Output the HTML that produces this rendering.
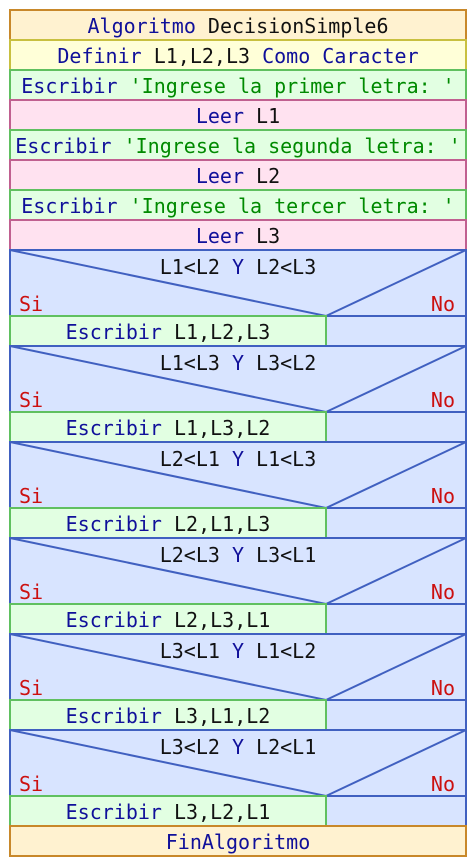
<!DOCTYPE html>
<html><head><meta charset="utf-8"><style>
html,body{margin:0;padding:0;background:#fff;width:476px;height:866px;overflow:hidden}
text{font-family:"DejaVu Sans Mono","Liberation Mono",monospace;font-size:20px;text-anchor:middle}
.k{fill:#10109a}.s{fill:#008a00}.t{fill:#111}.r{fill:#cc1010}
</style></head><body>
<svg width="476" height="866" xmlns="http://www.w3.org/2000/svg">
<rect x="10" y="10" width="456" height="30" fill="#fff2d0" stroke="#c8882a" stroke-width="2"/>
<text x="238" y="33"><tspan class="k">Algoritmo</tspan><tspan class="t"> DecisionSimple6</tspan></text>
<rect x="10" y="40" width="456" height="30" fill="#ffffd8" stroke="#c8c040" stroke-width="2"/>
<text x="238" y="63"><tspan class="k">Definir</tspan><tspan class="t"> L1,L2,L3 </tspan><tspan class="k">Como Caracter</tspan></text>
<rect x="10" y="70" width="456" height="30" fill="#e2ffe2" stroke="#60c060" stroke-width="2"/>
<text x="238" y="93"><tspan class="k">Escribir</tspan><tspan class="s"> 'Ingrese la primer letra: '</tspan></text>
<rect x="10" y="100" width="456" height="30" fill="#ffe2f0" stroke="#c06090" stroke-width="2"/>
<text x="238" y="123"><tspan class="k">Leer</tspan><tspan class="t"> L1</tspan></text>
<rect x="10" y="130" width="456" height="30" fill="#e2ffe2" stroke="#60c060" stroke-width="2"/>
<text x="238" y="153"><tspan class="k">Escribir</tspan><tspan class="s"> 'Ingrese la segunda letra: '</tspan></text>
<rect x="10" y="160" width="456" height="30" fill="#ffe2f0" stroke="#c06090" stroke-width="2"/>
<text x="238" y="183"><tspan class="k">Leer</tspan><tspan class="t"> L2</tspan></text>
<rect x="10" y="190" width="456" height="30" fill="#e2ffe2" stroke="#60c060" stroke-width="2"/>
<text x="238" y="213"><tspan class="k">Escribir</tspan><tspan class="s"> 'Ingrese la tercer letra: '</tspan></text>
<rect x="10" y="220" width="456" height="30" fill="#ffe2f0" stroke="#c06090" stroke-width="2"/>
<text x="238" y="243"><tspan class="k">Leer</tspan><tspan class="t"> L3</tspan></text>

<g id="d1">
<rect x="10" y="250" width="456" height="96" fill="#d8e4ff" stroke="#4060c0" stroke-width="2"/>
<polyline points="10,250 326,316 466,250" fill="none" stroke="#4060c0" stroke-width="2"/>
<line x1="326" y1="316" x2="466" y2="316" stroke="#4060c0" stroke-width="2"/>
<text x="19" y="311" class="r" style="text-anchor:start">Si</text>
<text x="455" y="311" class="r" style="text-anchor:end">No</text>
<rect x="10" y="316" width="316" height="30" fill="#e2ffe2" stroke="#60c060" stroke-width="2"/>
</g>
<text x="238" y="274"><tspan class="t">L1&lt;L2 </tspan><tspan class="k">Y</tspan><tspan class="t"> L2&lt;L3</tspan></text>
<text x="168" y="339"><tspan class="k">Escribir</tspan><tspan class="t"> L1,L2,L3</tspan></text>

<use href="#d1" transform="translate(0,96)"/>
<text x="238" y="370"><tspan class="t">L1&lt;L3 </tspan><tspan class="k">Y</tspan><tspan class="t"> L3&lt;L2</tspan></text>
<text x="168" y="435"><tspan class="k">Escribir</tspan><tspan class="t"> L1,L3,L2</tspan></text>

<use href="#d1" transform="translate(0,192)"/>
<text x="238" y="466"><tspan class="t">L2&lt;L1 </tspan><tspan class="k">Y</tspan><tspan class="t"> L1&lt;L3</tspan></text>
<text x="168" y="531"><tspan class="k">Escribir</tspan><tspan class="t"> L2,L1,L3</tspan></text>

<use href="#d1" transform="translate(0,288)"/>
<text x="238" y="562"><tspan class="t">L2&lt;L3 </tspan><tspan class="k">Y</tspan><tspan class="t"> L3&lt;L1</tspan></text>
<text x="168" y="627"><tspan class="k">Escribir</tspan><tspan class="t"> L2,L3,L1</tspan></text>

<use href="#d1" transform="translate(0,384)"/>
<text x="238" y="658"><tspan class="t">L3&lt;L1 </tspan><tspan class="k">Y</tspan><tspan class="t"> L1&lt;L2</tspan></text>
<text x="168" y="723"><tspan class="k">Escribir</tspan><tspan class="t"> L3,L1,L2</tspan></text>

<use href="#d1" transform="translate(0,480)"/>
<text x="238" y="754"><tspan class="t">L3&lt;L2 </tspan><tspan class="k">Y</tspan><tspan class="t"> L2&lt;L1</tspan></text>
<text x="168" y="819"><tspan class="k">Escribir</tspan><tspan class="t"> L3,L2,L1</tspan></text>

<rect x="10" y="826" width="456" height="30" fill="#fff2d0" stroke="#c8882a" stroke-width="2"/>
<text x="238" y="849" class="k">FinAlgoritmo</text>
</svg>
</body></html>
